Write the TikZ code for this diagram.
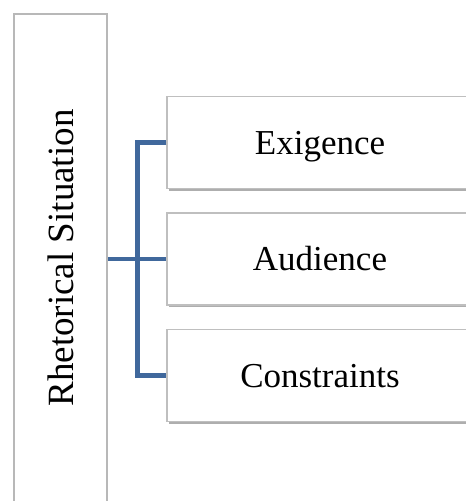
\documentclass[tikz,border=0pt]{standalone}
\usepackage{fontspec}
\setmainfont{Liberation Serif}
\usetikzlibrary{shadows}
\definecolor{connblue}{RGB}{64,104,156}
\begin{document}
\begin{tikzpicture}[x=1pt,y=1pt,
  mainbox/.style={draw=black!28, line width=2pt, fill=white, rotate=90,
    minimum width=488pt, minimum height=93pt, inner sep=0pt,
    text height=25pt, text depth=0pt,
    font=\fontsize{37}{42}\selectfont},
  childbox/.style={draw=black!25, line width=1.2pt, fill=white,
    minimum width=306pt, minimum height=92pt, inner sep=0pt,
    text height=24pt, text depth=0pt,
    font=\fontsize{35}{40}\selectfont,
    drop shadow={shadow xshift=1.5pt, shadow yshift=-2.5pt, opacity=0.45, fill=black!70}},
  conn/.style={draw=connblue, line width=4.5pt}]
\useasboundingbox (0,0) rectangle (466,501);
\clip (0,0) rectangle (466,501);
\node[mainbox] (rs) at (60.5,243) {Rhetorical Situation};
\node[childbox] (ex) at (320,358.5) {Exigence};
\node[childbox] (au) at (320,242) {Audience};
\node[childbox] (co) at (320,125.5) {Constraints};
\draw[conn] (rs.south |- au.west) -- (au.west);
\draw[conn] (ex.west) -- ++(-29,0) coordinate (bt) |- (co.west);
\end{tikzpicture}
\end{document}
